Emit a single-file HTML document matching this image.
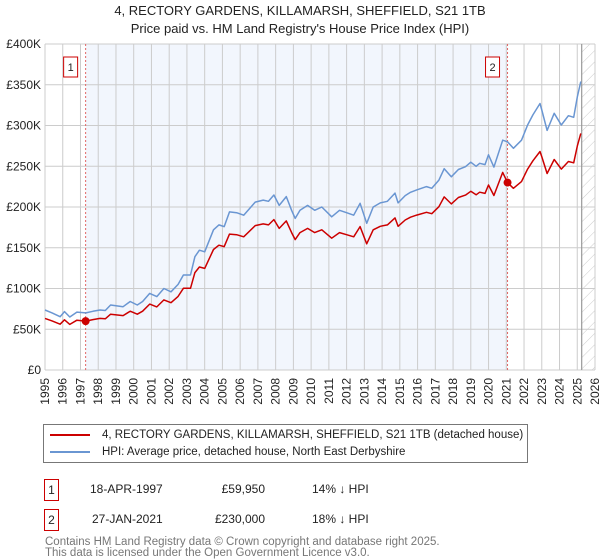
<!DOCTYPE html>
<html><head><meta charset="utf-8"><style>
body{margin:0;background:#fff;font-family:"Liberation Sans","DejaVu Sans",sans-serif;}
#wrap{position:relative;width:600px;height:560px;overflow:hidden;}
.t{position:absolute;white-space:nowrap;}
</style></head><body><div id="wrap">
<div class="t" style="left:0;width:600px;text-align:center;top:2px;font-size:13px;line-height:18px;color:#222;">4, RECTORY GARDENS, KILLAMARSH, SHEFFIELD, S21 1TB<br>Price paid vs. HM Land Registry's House Price Index (HPI)</div>
<svg id="chart" width="600" height="420" style="position:absolute;left:0;top:0" font-family="Liberation Sans, DejaVu Sans, sans-serif"></svg>
<div style="position:absolute;left:43px;top:424px;width:483px;height:37px;border:1px solid #777;font-size:11.5px;color:#222;">
 <div style="position:absolute;left:6px;top:4px;"><span style="display:inline-block;width:40px;height:2px;background:#cc0000;vertical-align:middle;margin-right:12px;"></span>4, RECTORY GARDENS, KILLAMARSH, SHEFFIELD, S21 1TB (detached house)</div>
 <div style="position:absolute;left:6px;top:21px;"><span style="display:inline-block;width:40px;height:2px;background:#6a96d2;vertical-align:middle;margin-right:12px;"></span>HPI: Average price, detached house, North East Derbyshire</div>
</div>
<div style="position:absolute;left:0;top:479px;width:600px;font-size:12px;color:#222;">
 <div class="t" style="left:44px;top:0;width:13px;height:20px;border:1px solid #c00;text-align:center;line-height:20px;">1</div>
 <div class="t" style="left:90px;top:3px;">18-APR-1997</div>
 <div class="t" style="left:200px;width:65px;text-align:right;top:3px;">£59,950</div>
 <div class="t" style="left:312px;top:3px;">14% ↓ HPI</div>
</div>
<div style="position:absolute;left:0;top:509px;width:600px;font-size:12px;color:#222;">
 <div class="t" style="left:44px;top:0;width:13px;height:20px;border:1px solid #c00;text-align:center;line-height:20px;">2</div>
 <div class="t" style="left:92px;top:3px;">27-JAN-2021</div>
 <div class="t" style="left:200px;width:65px;text-align:right;top:3px;">£230,000</div>
 <div class="t" style="left:312px;top:3px;">18% ↓ HPI</div>
</div>
<div class="t" style="left:45px;top:537px;font-size:11.5px;line-height:11px;color:#777;">Contains HM Land Registry data © Crown copyright and database right 2025.<br>This data is licensed under the Open Government Licence v3.0.</div>
</div>
<script>
const dates=[1995.0,1995.4,1995.85,1996.1,1996.4,1996.8,1997.3,1997.7,1998.1,1998.4,1998.7,1999.4,1999.8,2000.2,2000.5,2000.9,2001.3,2001.7,2002.1,2002.5,2002.8,2003.2,2003.45,2003.7,2004.0,2004.5,2004.8,2005.1,2005.4,2005.8,2006.2,2006.85,2007.3,2007.6,2007.9,2008.2,2008.6,2008.9,2009.1,2009.37,2009.8,2010.2,2010.6,2011.16,2011.6,2012.0,2012.4,2012.76,2013.13,2013.5,2013.9,2014.3,2014.73,2014.9,2015.3,2015.6,2015.95,2016.5,2016.8,2017.2,2017.5,2017.9,2018.3,2018.7,2019.0,2019.3,2019.5,2019.8,2020.0,2020.3,2020.8,2021.07,2021.4,2021.86,2022.2,2022.5,2022.9,2023.0,2023.3,2023.7,2024.1,2024.5,2024.8,2025.0,2025.2];
const hpiValues=[73.6,70,65.4,71.6,65,71,70,72,73.6,73,79.7,77.7,84,79.7,84,94,90,100,96,105,116.6,116.6,139,147,145,172,178,176,194,193,190,206,208.5,207,214.7,202,212.7,196,186,196,202,196,200,188,196,193,190,204.5,180,200,205,207,217,205,214,218,221,225,223,233,247,237,246,249.5,255,250,253.6,252,264,249,282,280,272,282,300.6,313,327,319,294,315,300.6,312,310,335,354];
const priceValues=[63.3,60.2,56.2,61.6,55.9,61.1,60.0,61.9,63.3,62.8,68.5,66.8,72.2,68.5,72.2,80.8,77.4,86.0,82.6,90.3,100.3,100.3,119.5,126.4,124.7,147.9,153.1,151.4,166.8,166.0,163.4,177.2,179.3,178.0,184.6,173.7,182.9,168.6,160.0,168.6,173.7,168.6,172.0,161.7,168.6,166.0,163.4,175.9,154.8,172.0,176.3,178.0,186.6,176.3,184.0,187.5,190.1,193.5,191.8,200.4,212.4,203.8,211.6,214.6,219.3,215.0,218.1,216.7,227.0,214.1,242.5,230,223.0,231.2,246.5,256.7,268.1,261.6,241.1,258.3,246.5,255.8,254.2,274.7,290.3];
const saleDates=[1997.29,2021.07];
const saleValues=[59.95,230];
const saleLabels=["1","2"];
const yTicks=[0,50,100,150,200,250,300,350,400];
const yTickLabels=["£0","£50K","£100K","£150K","£200K","£250K","£300K","£350K","£400K"];
const xTicks=[1995,1996,1997,1998,1999,2000,2001,2002,2003,2004,2005,2006,2007,2008,2009,2010,2011,2012,2013,2014,2015,2016,2017,2018,2019,2020,2021,2022,2023,2024,2025,2026];

const L=45,R=595,T=44,B=370,X0=1995,X1=2026,YM=400,DATA_END=2025.25;
const sx=v=>L+(v-X0)/(X1-X0)*(R-L);
const sy=v=>B-v/YM*(B-T);
const svg=document.getElementById('chart');
const NS='http://www.w3.org/2000/svg';
function mk(tag,a){const e=document.createElementNS(NS,tag);for(const k in a)e.setAttribute(k,a[k]);svg.appendChild(e);return e;}
const defs=mk('defs',{});
defs.innerHTML='<pattern id="hatch" width="8" height="8" patternUnits="userSpaceOnUse" patternTransform="rotate(45)"><line x1="0" y1="0" x2="0" y2="8" stroke="#ccc" stroke-width="1"/></pattern>';
let e=mk('rect',{x:sx(saleDates[0]),y:T,width:sx(saleDates[1])-sx(saleDates[0]),height:B-T,fill:'#f2f6fd'});


e=mk('rect',{x:sx(DATA_END),y:T,width:R-sx(DATA_END),height:B-T,fill:'url(#hatch)'});


xTicks.forEach(t=>{
 const g=mk('line',{x1:sx(t),x2:sx(t),y1:T,y2:B,stroke:'#ccc','stroke-width':1});
 
 
 const tx=mk('text',{x:0,y:0,'font-size':12,fill:'#222','text-anchor':'end',transform:`translate(${sx(t)+4},${B+8}) rotate(-90)`});
 tx.textContent=t;
 
 
});
yTicks.forEach((t,i)=>{
 const g=mk('line',{x1:L,x2:R,y1:sy(t),y2:sy(t),stroke:'#ccc','stroke-width':1});
 
 
 const tx=mk('text',{x:L-4,y:sy(t)+4,'font-size':12,fill:'#222','text-anchor':'end'});
 tx.textContent=yTickLabels[i];
 
 
});
e=mk('line',{x1:sx(DATA_END),x2:sx(DATA_END),y1:T,y2:B,stroke:'#999','stroke-width':1.2});


saleDates.forEach((d,i)=>{
 const l=mk('line',{x1:sx(d),x2:sx(d),y1:T,y2:B,stroke:'#e06666','stroke-width':1,'stroke-dasharray':'2,2'});
 
 
 const r=mk('rect',{x:sx(d)-22,y:57,width:14,height:20,fill:'#fff',stroke:'#c00'});
 
 
 const t=mk('text',{x:sx(d)-15,y:71,'font-size':11,'text-anchor':'middle',fill:'#222'});
 t.textContent=saleLabels[i];
 
 
});
function line(vals,col,name){
 const p=mk('polyline',{points:dates.map((d,i)=>sx(d).toFixed(1)+','+sy(vals[i]).toFixed(1)).join(' '),fill:'none',stroke:col,'stroke-width':1.5,'stroke-linejoin':'round'});
 
 
}
line(hpiValues,'#6a96d2','hpi-line');
line(priceValues,'#cc0000','price-paid-line');
saleDates.forEach((d,i)=>{
 const c=mk('circle',{cx:sx(d),cy:sy(saleValues[i]),r:4,fill:'#cc0000'});
 
 
});
</script>
</body></html>
